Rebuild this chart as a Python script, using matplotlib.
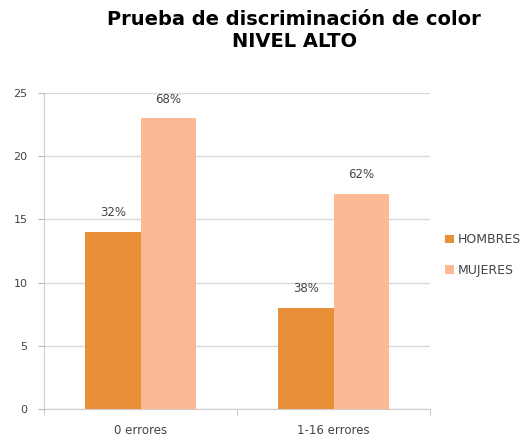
import numpy as np
import matplotlib.pyplot as plt

categories = ['0 errores', '1-16 errores']
hombres = [14, 8]
mujeres = [23, 17]
hombres_pct = ['32%', '38%']
mujeres_pct = ['68%', '62%']

c_h = '#E98F37'
c_m = '#FBB994'
grey = '#444444'

fig = plt.figure(figsize=(5.28, 4.36), dpi=100)
ax = fig.add_axes([44/528, 1-409/436, (430-44)/528, (409-93)/436])

x = np.arange(len(categories))
w = 0.285
b1 = ax.bar(x - w/2, hombres, w, color=c_h, label='HOMBRES', zorder=3)
b2 = ax.bar(x + w/2, mujeres, w, color=c_m, label='MUJERES', zorder=3)

for bars, labs in [(b1, hombres_pct), (b2, mujeres_pct)]:
    for r, t in zip(bars, labs):
        ax.text(r.get_x() + r.get_width()/2, r.get_height() + 1.0, t,
                ha='center', va='bottom', fontsize=8.5, color=grey)

ax.set_xlim(-0.5, 1.5)
ax.set_ylim(0, 25)
ax.set_yticks(range(0, 26, 5))
ax.set_xticks(x)
ax.set_xticklabels(categories)
ax.set_xticks([-0.5, 0.5, 1.5], minor=True)
ax.tick_params(axis='x', which='major', length=0, labelsize=8.5, labelcolor=grey, pad=11)
ax.tick_params(axis='x', which='minor', length=4, color='#bbbbbb')
ax.tick_params(axis='y', length=4, color='#bbbbbb', labelsize=8, labelcolor=grey, pad=8)
ax.yaxis.grid(True, color='#d9d9d9', lw=1, zorder=0)
for s in ['top', 'right']:
    ax.spines[s].set_visible(False)
for s in ['left', 'bottom']:
    ax.spines[s].set_color('#cccccc')

ax.legend(loc='center left', bbox_to_anchor=(1.04, 0.487), frameon=False,
          borderpad=0, borderaxespad=0,
          fontsize=9, labelcolor=grey, handlelength=0.7, handleheight=0.7,
          handletextpad=0.3, labelspacing=1.4)

fig.text(0.557, 0.978, 'Prueba de discriminación de color\nNIVEL ALTO',
         ha='center', va='top', fontsize=14, fontweight='bold', linespacing=1.25)

fig.savefig('out.png', dpi=100)
